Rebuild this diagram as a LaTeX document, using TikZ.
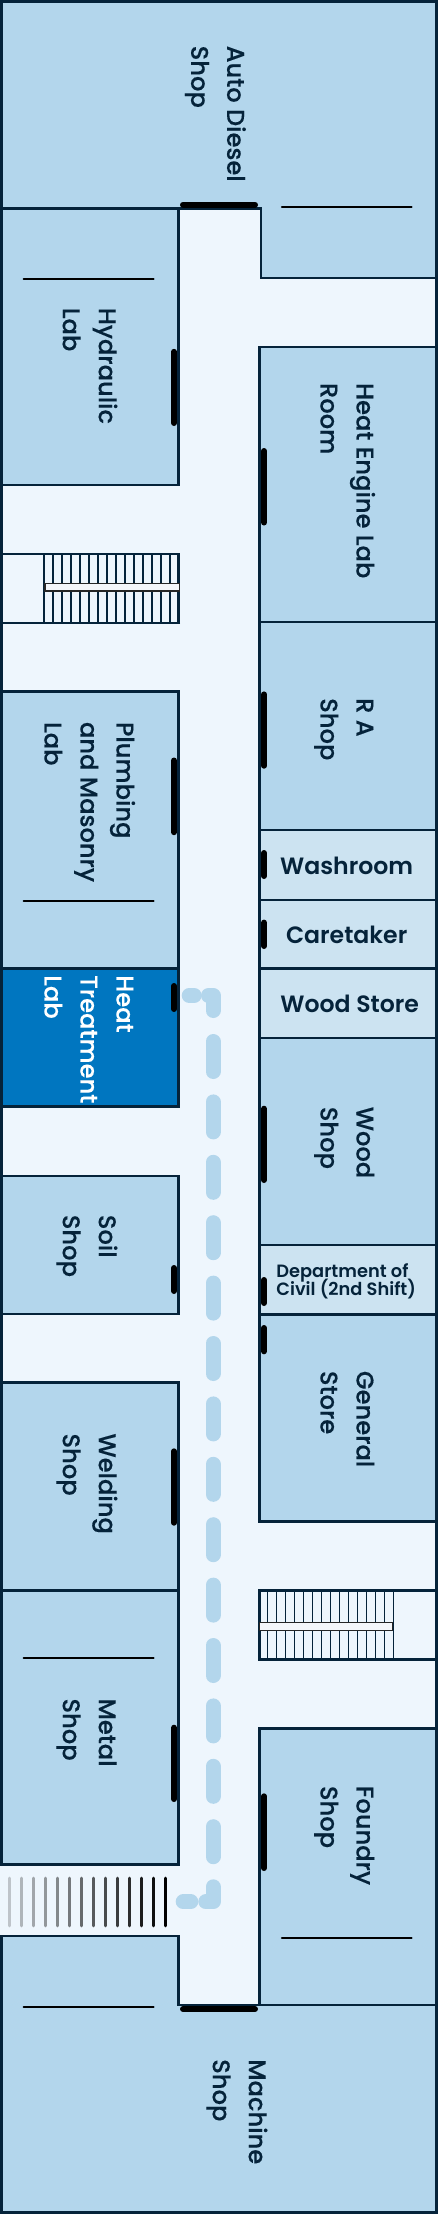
\documentclass[tikz,border=0pt]{standalone}
\usepackage{fontspec}
\setmainfont{Poppins}[UprightFont=* Medium,BoldFont=* SemiBold]
\newfontfamily\rotfont{Poppins Medium}[FakeBold=0.2]
\definecolor{wall}{HTML}{05233A}
\definecolor{roomc}{HTML}{B3D6EC}
\definecolor{smallc}{HTML}{CCE3F1}
\definecolor{hallc}{HTML}{EEF6FD}
\definecolor{activec}{HTML}{0076C0}
\definecolor{railc}{HTML}{F4F6FA}
\tikzset{
  room/.style={fill=roomc,draw=wall,line width=2.6pt,line join=miter},
  smallroom/.style={fill=smallc,draw=wall,line width=2.6pt},
  activeroom/.style={fill=activec,draw=wall,line width=2.6pt},
  door/.style={draw=black,line width=6pt,line cap=round},
  mark line/.style={draw=black,line width=2.2pt,line cap=round},
  wallline/.style={draw=wall,line width=2.6pt},
  tread/.style={draw=wall,line width=1.4pt},
  rail/.style={fill=railc,draw=black!85,line width=1.3pt},
  route/.style={draw=roomc,line width=15pt,line cap=round,line join=round},
  rlabel/.style={rotate=-90,anchor=north west,align=left,inner sep=0pt,text=wall,
     font=\rotfont\fontsize{24.2}{36}\selectfont},
  hlabel/.style={anchor=base,inner sep=0pt,text=wall,font=\fontsize{23.6}{26}\selectfont\bfseries},
}
\newcommand{\rlab}[5][wall]{\node[rlabel,text=#1] (#2) at (#3+22.7,#4) {\rule{0pt}{22pt}#5};}
\begin{document}
\begin{tikzpicture}[x=1pt,y=-1pt]
\useasboundingbox (0,0) rectangle (438,2214);
\fill[hallc] (0,0) rectangle (438,2214);
% rooms, left
\draw[room] (1.5,208.4) rectangle (178.7,485);
\draw[room] (1.5,691.4) rectangle (178.7,968.2);
\draw[activeroom] (1.5,968.2) rectangle (178.7,1106.6);
\draw[room] (1.5,1176) rectangle (178.7,1314);
\draw[room] (1.5,1382.7) rectangle (178.7,1590.3);
\draw[room] (1.5,1590.3) rectangle (178.7,1864.3);
% rooms, right
\draw[room] (259.5,346.8) rectangle (436,622);
\draw[room] (259.5,622) rectangle (436,829.8);
\draw[smallroom] (259.5,829.8) rectangle (436,900);
\draw[smallroom] (259.5,900) rectangle (436,968.2);
\draw[smallroom] (259.5,968.2) rectangle (436,1037.9);
\draw[room] (259.5,1037.9) rectangle (436,1245);
\draw[smallroom] (259.5,1245) rectangle (436,1314.6);
\draw[room] (259.5,1314.6) rectangle (436,1521.3);
\draw[room] (259.5,1728.7) rectangle (436,2005);
% end rooms
\draw[room] (0,0) -- (438,0) -- (438,278) -- (261,278) -- (261,208.4) -- (0,208.4) -- cycle;
\draw[room] (0,2214) -- (438,2214) -- (438,2005) -- (178.7,2005) -- (178.7,1936) -- (0,1936) -- cycle;
% stairs, upper left
\draw[wallline] (3,554) -- (180,554) (178.7,554) -- (178.7,623) (180,623) -- (3,623);
\foreach \i in {0,...,14}{\draw[tread] ({44+9*\i},554) -- ({44+9*\i},623);}
\draw[rail] (45,583.3) rectangle (179.3,591);
% stairs, lower right
\draw[wallline] (436,1590.6) -- (259.5,1590.6) -- (259.5,1659.7) -- (436,1659.7);
\foreach \i in {0,...,14}{\draw[tread] ({267.7+9*\i},1590.6) -- ({267.7+9*\i},1659.7);}
\draw[rail] (259.5,1622.7) rectangle (392.7,1630.7);
% outer wall
\draw[draw=wall,line width=3pt] (1.5,1.5) rectangle (436.5,2212.5);
\fill[hallc] (0,1865.6) rectangle (4,1934.8);
% doors
\draw[door] (183,204.6) -- (255,204.6);
\draw[door] (183,2009) -- (255,2009);
\draw[door] (174,351.8) -- (174,423);
\draw[door] (174,760.5) -- (174,832.2);
\draw[door] (174,986) -- (174,1009);
\draw[door] (174,1268) -- (174,1291);
\draw[door] (174,1451.3) -- (174,1522.7);
\draw[door] (174,1727.7) -- (174,1799);
\draw[door] (264,451) -- (264,522.5);
\draw[door] (264,694.4) -- (264,765.7);
\draw[door] (264,853) -- (264,876);
\draw[door] (264,922.6) -- (264,946);
\draw[door] (264,1108.7) -- (264,1180);
\draw[door] (264,1280) -- (264,1303);
\draw[door] (264,1328) -- (264,1351.3);
\draw[door] (264,1796.3) -- (264,1868);
% marks
\draw[mark line] (282,206.8) -- (411.5,206.8);
\draw[mark line] (23.7,279) -- (153.5,279);
\draw[mark line] (23.7,901) -- (153.5,901);
\draw[mark line] (23.7,1658) -- (153.5,1658);
\draw[mark line] (282,1937.7) -- (411.5,1937.7);
\draw[mark line] (23.7,2006.7) -- (153.5,2006.7);
% route
\draw[route] (189.2,995.5) -- (194.2,995.5);
\draw[route] (208.5,995.5) -- (213,995.5) -- (213,1010.5);
\foreach \i in {0,...,13}{\draw[route] (213,{1041.5+60.4*\i}) -- (213,{1071.5+60.4*\i});}
\draw[route] (213,1886.8) -- (213,1901.8) -- (205.8,1901.8);
\draw[route] (190.8,1901.8) -- (183.2,1901.8);
% stair strip
\foreach \i in {0,...,13}{\draw[draw=black,line width=3pt,line cap=round,draw opacity={0.2+0.8*\i/13}] ({9+12*\i},1878.2) -- ({9+12*\i},1925.8);}
% labels
\rlab{auto}{226.7}{45.5}{Auto Diesel\\Shop}
\rlab{hyd}{98.3}{307.6}{Hydraulic\\Lab}
\rlab{heng}{356}{382.8}{Heat Engine Lab\\Room}
\rlab{plumb}{116}{721.8}{Plumbing\\and Masonry\\Lab}
\rlab[white]{heat}{116}{975}{Heat\\Treatment\\Lab}
\rlab{soil}{98.3}{1214.6}{Soil\\Shop}
\rlab{weld}{98.3}{1433.3}{Welding\\Shop}
\rlab{metal}{98.3}{1698.3}{Metal\\Shop}
\rlab{ra}{356}{698}{R A\\Shop}
\rlab{wood}{356}{1106.6}{Wood\\Shop}
\rlab{gen}{356}{1370.7}{General\\Store}
\rlab{found}{356}{1785.7}{Foundry\\Shop}
\rlab{mach}{248.3}{2059}{Machine\\Shop}
\node[hlabel] (wash) at (346.7,874.5) {Washroom};
\node[hlabel] (care) at (346.7,943.7) {Caretaker};
\node[hlabel] (wstore) at (349.7,1012.8) {Wood Store};
\node[hlabel,font=\fontsize{17.8}{18}\selectfont\bfseries,anchor=base west] (dept1) at (276.2,1277) {Department of};
\node[hlabel,font=\fontsize{17.8}{18}\selectfont\bfseries,anchor=base west] (dept2) at (276.2,1295) {Civil (2nd Shift)};
\end{tikzpicture}
\end{document}
